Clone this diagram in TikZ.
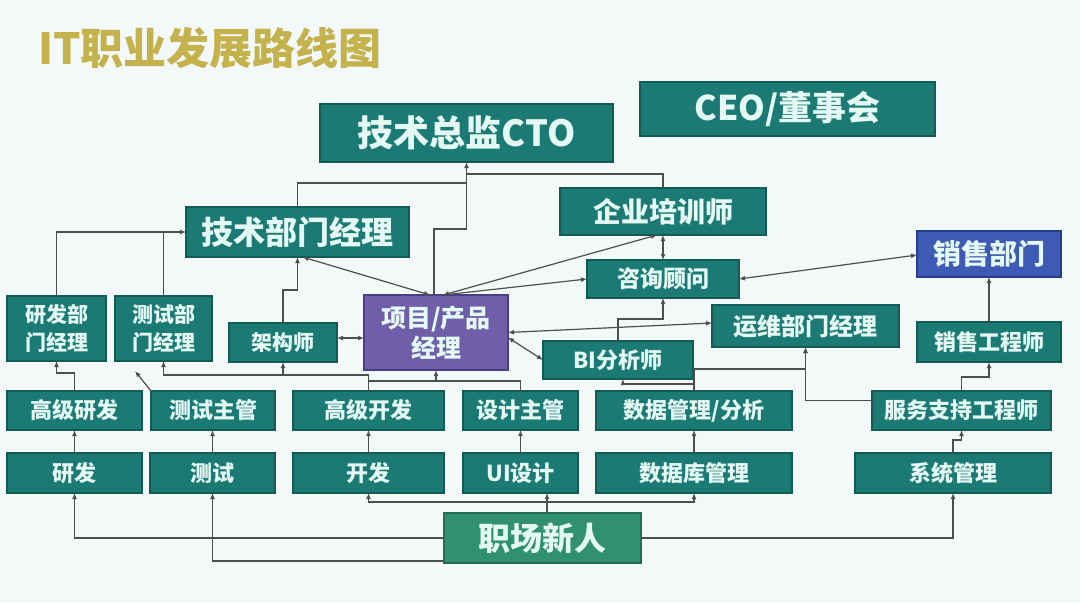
\documentclass[tikz,border=0pt]{standalone}
\usepackage{fontspec}
\setmainfont{Noto Sans CJK SC}
\usepackage{graphicx}
\usetikzlibrary{arrows.meta,calc}
\definecolor{bgc}{HTML}{F3F9F9}
\definecolor{tealfill}{HTML}{1B7B74}
\definecolor{tealline}{HTML}{135B55}
\definecolor{purfill}{HTML}{6E5FA8}
\definecolor{purline}{HTML}{4B3F84}
\definecolor{bluefill}{HTML}{3D5AB4}
\definecolor{blueline}{HTML}{263F8C}
\definecolor{greenfill}{HTML}{31906E}
\definecolor{greenline}{HTML}{216E52}
\definecolor{boxtext}{HTML}{E4F8F4}
\definecolor{linec}{HTML}{4E4E4E}
\definecolor{titlec}{HTML}{C4B24C}
\begin{document}
\begin{tikzpicture}[x=1pt,y=-1pt,
  box/.style={draw=tealline, fill=tealfill, line width=1.2pt, text=boxtext,
    inner sep=0pt, outer sep=0pt, align=center},
  pbox/.style={box, draw=purline, fill=purfill},
  bbox/.style={box, draw=blueline, fill=bluefill},
  gbox/.style={box, draw=greenline, fill=greenfill},
  sz/.style 2 args={minimum width=#1pt, minimum height=#2pt},
  fa/.style={font=\bfseries\fontsize{#1pt}{#1pt}\selectfont},
  fb/.style={font=\bfseries\fontsize{21pt}{28pt}\selectfont},
  fp/.style={font=\bfseries\fontsize{25pt}{30pt}\selectfont},
  conn/.style={draw=linec, line width=1.2pt},
  arr/.style={conn, -{Latex[length=6pt,width=5pt]}},
  arr2/.style={conn, {Latex[length=6pt,width=5pt]}-{Latex[length=6pt,width=5pt]}}]
\useasboundingbox (0,0) rectangle (1080,603);
\fill[bgc] (0,0) rectangle (1080,603);
% title
\node[text=titlec, font=\bfseries\fontsize{43pt}{43pt}\selectfont] (title) at (210,48) {IT职业发展路线图};
% top
\node[box, sz={293}{58}, fa=36] (cto) at (466.5,133) {技术总监CTO};
\node[box, sz={295}{54}, fa=34] (ceo) at (787.5,109) {CEO/董事会};
\node[box, sz={223}{50}, fa=32] (tdm) at (297.5,232) {技术部门经理};
\node[box, sz={206}{47}, fa=28] (trainer) at (663,211.5) {企业培训师};
\node[box, sz={152}{38}, fa=23] (consult) at (663,279) {咨询顾问};
\node[bbox, sz={144}{46}, fa=28] (sales) at (989,254) {销售部门};
% managers
\node[box, sz={99}{65}, fb] (rdm) at (56.5,328.5) {研发部\\门经理};
\node[box, sz={97}{65}, fb] (qam) at (163.5,328.5) {测试部\\门经理};
\node[box, sz={108}{39}, fa=21] (arch) at (283,342.5) {架构师};
\node[pbox, sz={144}{75}, fp] (pm) at (436,332.5) {项目/产品\\经理};
\node[box, sz={187}{42}, fa=24] (opsm) at (805.5,326) {运维部门经理};
\node[box, sz={144}{40}, fa=22] (salese) at (989,342) {销售工程师};
\node[box, sz={150}{38}, fa=22] (bi) at (618,360) {BI分析师};
% row 2
\node[box, sz={135}{39}, fa=22] (srd) at (74.5,410.5) {高级研发};
\node[box, sz={124}{39}, fa=22] (tlead) at (213,410.5) {测试主管};
\node[box, sz={151}{39}, fa=22] (sdev) at (368.5,410.5) {高级开发};
\node[box, sz={115}{39}, fa=22] (dlead) at (520.5,410.5) {设计主管};
\node[box, sz={196}{39}, fa=22] (dm) at (694,410.5) {数据管理/分析};
\node[box, sz={179}{39}, fa=22] (svc) at (961.5,410.5) {服务支持工程师};
% row 3
\node[box, sz={135}{40}, fa=22] (rd) at (74.5,473) {研发};
\node[box, sz={125}{40}, fa=22] (test) at (212.5,473) {测试};
\node[box, sz={151}{40}, fa=22] (dev) at (368.5,473) {开发};
\node[box, sz={115}{40}, fa=22] (ui) at (520.5,473) {UI设计};
\node[box, sz={196}{40}, fa=22] (db) at (694,473) {数据库管理};
\node[box, sz={196}{40}, fa=22] (sys) at (953,473) {系统管理};
\node[gbox, sz={197}{50}, fa=32] (new) at (542.5,538) {职场新人};
% connectors from newcomer
\draw[arr] (new.west) -| (rd.south);
\draw[arr] ([yshift=2pt]new.south west) -| (test.south);
\coordinate (j1) at ([xshift=4.5pt,yshift=11pt]new.north);
\draw[arr] ([xshift=4.5pt]new.north) -- (j1 |- ui.south);
\draw[arr] (j1) -| (dev.south);
\draw[arr] (j1) -| (db.south);
\draw[arr] (new.east) -| (sys.south);
% row 3 -> row 2
\draw[arr] (rd.north) -- (srd.south);
\draw[arr] (test.north) -- (test.north |- tlead.south);
\draw[arr] (dev.north) -- (sdev.south);
\draw[arr] (ui.north) -- (dlead.south);
\draw[arr] (db.north) -- (dm.south);
\draw[arr] (sys.north) -- ++(0,13pt) -| (svc.south);
% row 2 -> managers
\draw[arr] (srd.north) -- ++(0,18pt) -| (rdm.south);
\coordinate (tq) at (135,371);
\draw[arr] (tlead.north west) -- (tq);
\coordinate (j2) at ([yshift=16pt]sdev.north);
\draw[conn] (sdev.north) -- (j2);
\draw[arr] (j2) -| (qam.south);
\draw[arr] (arch.south |- j2) -- (arch.south);
\coordinate (j3) at ([yshift=10pt]sdev.north);
\draw[conn] (j3) -| (dlead.north);
\draw[arr] (pm.south |- j3) -- (pm.south);
\draw[arr] (dm.north) -- ++(0,22pt) -| (opsm.south);
\draw[arr] ([yshift=7pt]dm.north) -| ([xshift=5pt]bi.south);
\draw[arr] ([yshift=10pt]svc.west) -| (opsm.south);
\draw[arr] (svc.north) -- ++(0,14pt) -| (salese.south);
\draw[arr] (salese.north) -- (sales.south);
% upper connectors
\draw[arr] (bi.north) -- ++(0,22pt) -| (consult.south);
\draw[arr2] (pm.east) -- ([yshift=3pt]opsm.west);
\draw[arr2] ([yshift=-5pt]pm.east) -- (bi.west);
\draw[arr] ([xshift=7pt]pm.north) -- (consult.west);
\draw[arr2] ([xshift=7pt]pm.north) -- ([xshift=-6pt]trainer.south);
\draw[arr2] ([xshift=-6pt]pm.north) -- ([xshift=5pt]tdm.south);
\draw[arr] ([xshift=-2pt]pm.north) -- ++(0,66pt) -| (cto.south);
\draw[conn] (tdm.north) |- ([yshift=-21pt]cto.south);
\draw[conn] (trainer.north) |- ([yshift=-12pt]cto.south);
\draw[arr2] (trainer.south) -- (consult.north);
\draw[arr2] (consult.east) -- ([yshift=-1pt]sales.west);
\draw[arr2] ([yshift=4.5pt]arch.east) -- ([yshift=4.5pt]arch.east -| pm.west);
\draw[arr] (arch.north) -- ++(0,33pt) -| (tdm.south);
\draw[arr] (rdm.north) |- (tdm.west);
\draw[conn] (qam.north) -- (qam.north |- tdm.west);
\end{tikzpicture}
\end{document}
